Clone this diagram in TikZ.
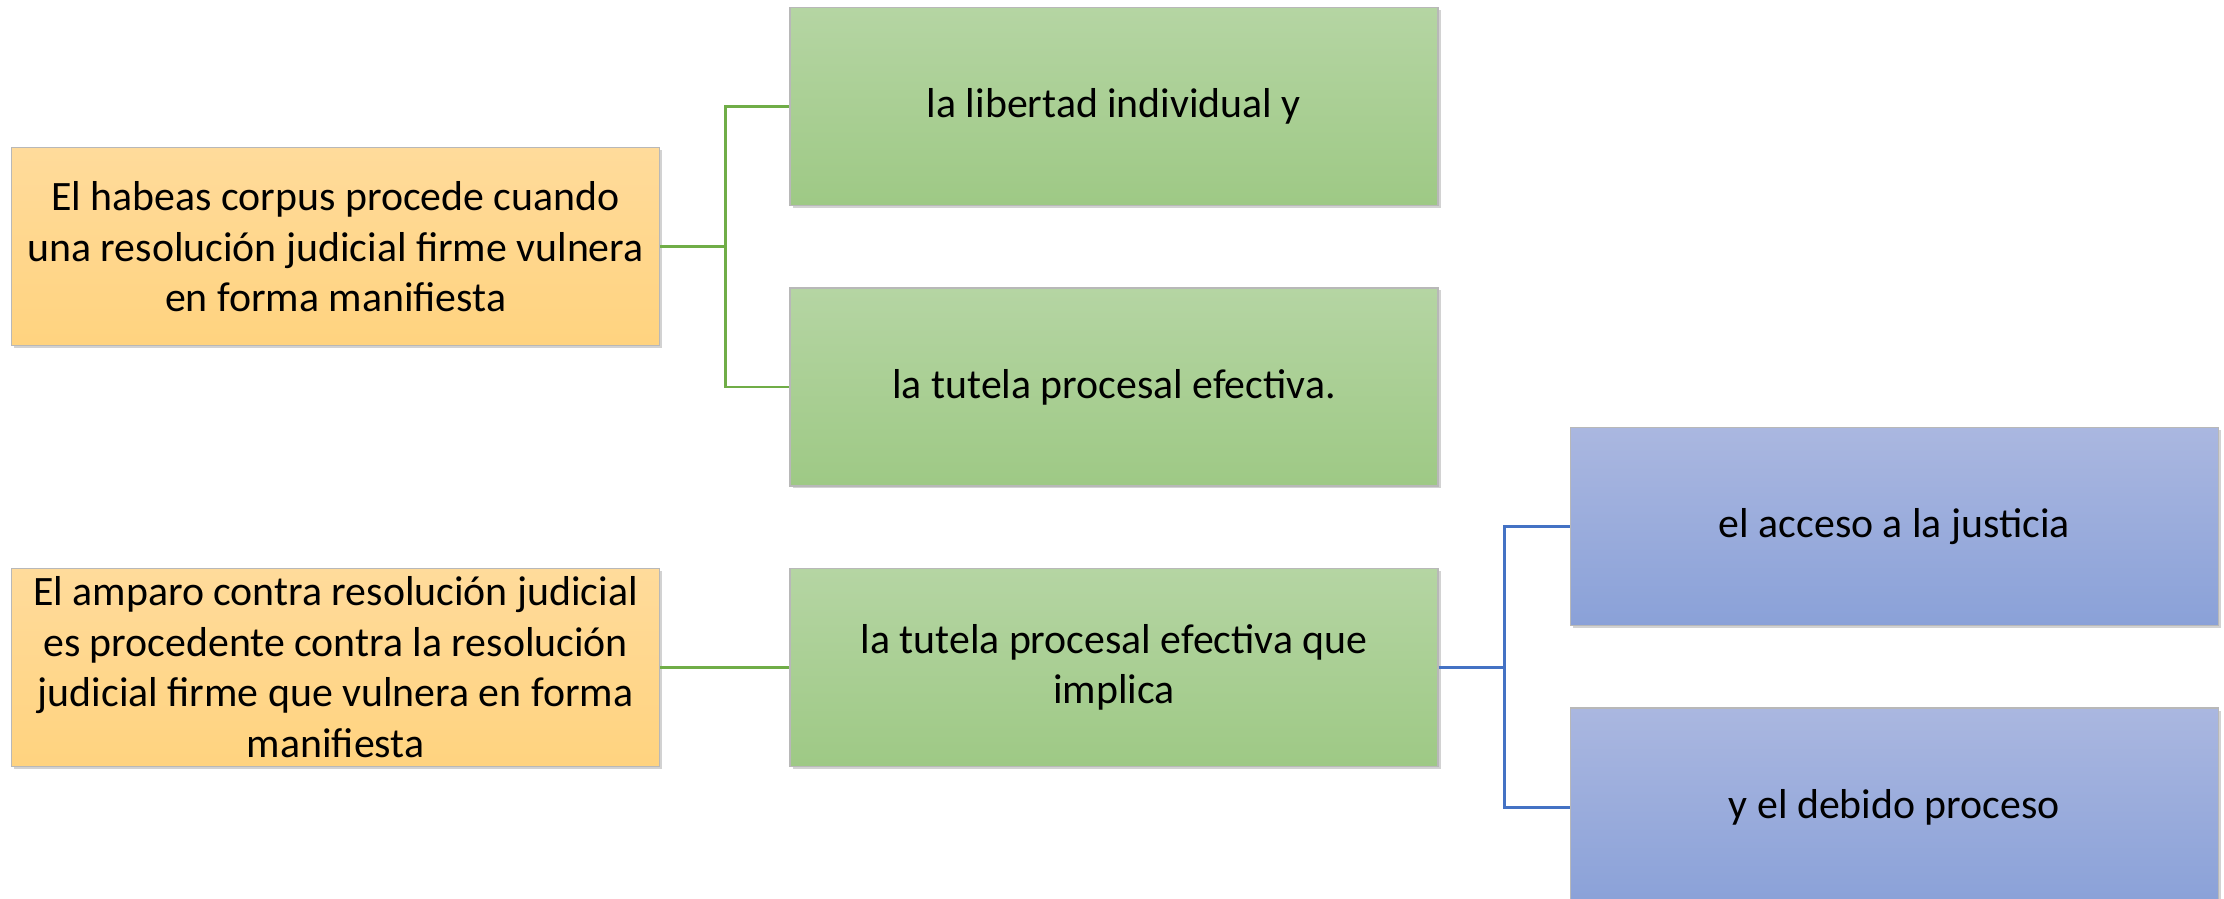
\documentclass[tikz,border=0pt]{standalone}
\usepackage{fontspec}
\setmainfont{Carlito}
\usetikzlibrary{positioning, calc, shadows}
\definecolor{orangetop}{RGB}{255,219,155}
\definecolor{orangebot}{RGB}{255,211,127}
\definecolor{greentop}{RGB}{181,213,163}
\definecolor{greenbot}{RGB}{158,201,133}
\definecolor{bluetop}{RGB}{170,183,224}
\definecolor{bluebot}{RGB}{138,161,216}
\definecolor{greenline}{RGB}{112,173,71}
\definecolor{blueline}{RGB}{68,114,196}
\tikzstyle{box} = [rectangle, minimum width=6.48cm, minimum height=1.98cm, inner sep=0pt, align=center, draw=black!28, line width=0.4pt, drop shadow={shadow xshift=0.025cm, shadow yshift=-0.025cm, fill=black!35}, font=\fontsize{11.9}{14.4}\selectfont]
\tikzstyle{cause} = [box, top color=orangetop, bottom color=orangebot]
\tikzstyle{branch} = [box, top color=greentop, bottom color=greenbot]
\tikzstyle{part} = [box, top color=bluetop, bottom color=bluebot]
\tikzstyle{gline} = [line width=0.75pt, draw=greenline]
\tikzstyle{bline} = [line width=0.75pt, draw=blueline]

\begin{document}
\begin{tikzpicture}[node distance=0.81cm]
\useasboundingbox (0,0) rectangle (22.24,-8.99);

\node (libertad) [branch] at (11.14,-1.065) {la libertad individual y};
\node (tutela) [branch, below=of libertad] {la tutela procesal efectiva.};
\node (implica) [branch, below=of tutela] {la tutela procesal efectiva que\\implica};

\node (habeas) [cause, left=1.29cm of $(libertad.west)!0.5!(tutela.west)$] {El habeas corpus procede cuando\\una resolución judicial firme vulnera\\en forma manifiesta};
\coordinate (hj) at ($(habeas.east)+(0.65,0)$);
\draw [gline] (habeas) -- (hj) |- (libertad);
\draw [gline] (hj) |- (tutela);

\node (amparo) [cause, left=1.29cm of implica] {El amparo contra resolución judicial\\es procedente contra la resolución\\judicial firme que vulnera en forma\\manifiesta};
\draw [gline] (amparo) -- (implica);

\node (acceso) [part, right=1.31cm of implica, yshift=1.405cm] {el acceso a la justicia};
\node (debido) [part, below=of acceso] {y el debido proceso};
\coordinate (ij) at ($(implica.east)+(0.66,0)$);
\draw [bline] (implica) -- (ij) |- (acceso);
\draw [bline] (ij) |- (debido);

\end{tikzpicture}
\end{document}
